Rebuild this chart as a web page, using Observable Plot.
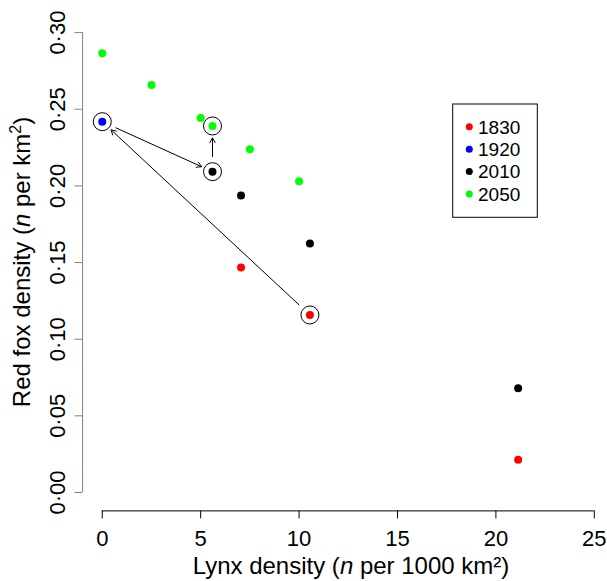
<!DOCTYPE html>
<html><head><meta charset="utf-8">
<script src="https://cdn.jsdelivr.net/npm/d3@7"></script>
<script src="https://cdn.jsdelivr.net/npm/@observablehq/plot@0.6"></script>
<style>body{margin:0;background:#fff}</style>
</head><body><div id="chart"></div>
<script>
const years = ["1830", "1920", "2010", "2050"];
const yearColors = ["#ff0000", "#0000ff", "#000000", "#00ff00"];
const lynx1830 = [10.55, 7.05, 21.13];
const fox1830 = [0.1158, 0.1468, 0.0213];
const lynx1920 = [0];
const fox1920 = [0.2419];
const lynx2010 = [5.6, 7.05, 10.55, 21.13];
const fox2010 = [0.2093, 0.1937, 0.1624, 0.068];
const lynx2050 = [0, 2.5, 5.0, 5.6, 7.5, 10.0];
const fox2050 = [0.2865, 0.2658, 0.2443, 0.2391, 0.2239, 0.2031];
const pathYears = ["1830", "1920", "2010", "2050"];
const pathLynx = [10.55, 0, 5.6, 5.6];
const pathFox = [0.1158, 0.2419, 0.2093, 0.2391];
const xTicks = [0, 5, 10, 15, 20, 25];
const yTicks = [0, 0.05, 0.10, 0.15, 0.20, 0.25, 0.30];
const yTickLabels = ["0·00", "0·05", "0·10", "0·15", "0·20", "0·25", "0·30"];
const xDomain = [-1, 25];
const yDomain = [-0.012, 0.312];

const series = [[lynx1830, fox1830], [lynx1920, fox1920], [lynx2010, fox2010], [lynx2050, fox2050]];
const points = series.flatMap(([lx, fx], i) => lx.map((x, j) => ({year: years[i], x, y: fx[j]})));
const path = pathYears.map((year, i) => ({year, x: pathLynx[i], y: pathFox[i]}));
const segs = d3.pairs(path).map(([a, b]) => ({x1: a.x, y1: a.y, x2: b.x, y2: b.y}));

const FONT = "'Liberation Sans', Arial, Helvetica, sans-serif";

const chart = Plot.plot({
  width: 607, height: 581,
  marginLeft: 82.1, marginRight: 13.2, marginTop: 13.7, marginBottom: 70.6,
  style: {fontFamily: FONT, fontSize: "22px", background: "#fff", overflow: "visible"},
  x: {domain: xDomain},
  y: {domain: yDomain},
  color: {domain: years, range: yearColors},
  marks: [
    Plot.ruleY([yDomain[0]], {x1: xTicks[0], x2: xTicks[xTicks.length - 1], stroke: "#000"}),
    Plot.axisX({ticks: xTicks, tickSize: 8, tickPadding: 11, fontSize: 22, label: null, stroke: "#000", fill: "#000"}),
    Plot.ruleX([xDomain[0]], {y1: yTicks[0], y2: yTicks[yTicks.length - 1], stroke: "#808080"}),
    Plot.axisY({ticks: yTicks, tickFormat: d => yTickLabels[yTicks.findIndex(t => Math.abs(t - d) < 1e-9)],
      tickRotate: -90, tickSize: 7.7, tickPadding: 10, fontSize: 22, label: null, stroke: "#808080", fill: "#000"}),
    Plot.dot(points, {x: "x", y: "y", fill: "year", r: 4, stroke: null}),
    Plot.dot(path, {x: "x", y: "y", r: 9, stroke: "#000", fill: "none", strokeWidth: 1}),
    Plot.arrow(segs, {x1: "x1", y1: "y1", x2: "x2", y2: "y2", insetStart: 15, insetEnd: 12,
      headLength: 8, headAngle: 60, stroke: "#000", strokeWidth: 1})
  ]
});

const svg = d3.select(chart);
// axis titles
const xt = svg.append("text").attr("x", 351).attr("y", 574).attr("text-anchor", "middle")
  .attr("font-size", 24).attr("fill", "#000");
xt.append("tspan").text("Lynx density (");
xt.append("tspan").attr("font-style", "italic").text("n");
xt.append("tspan").text(" per 1000 km²)");

const yt = svg.append("text").attr("transform", "translate(29.5,262) rotate(-90)").attr("text-anchor", "middle")
  .attr("font-size", 24).attr("fill", "#000");
yt.append("tspan").text("Red fox density (");
yt.append("tspan").attr("font-style", "italic").text("n");
yt.append("tspan").text(" per km");
yt.append("tspan").attr("font-size", 16).attr("dy", -9).text("2");
yt.append("tspan").attr("dy", 9).text(")");

// legend
const lg = svg.append("g");
lg.append("rect").attr("x", 452.7).attr("y", 104).attr("width", 84.6).attr("height", 113.3)
  .attr("fill", "#fff").attr("stroke", "#000").attr("stroke-width", 1);
years.forEach((yr, i) => {
  const cy = 126.7 + i * 22.45;
  lg.append("circle").attr("cx", 469.3).attr("cy", cy).attr("r", 3.5).attr("fill", yearColors[i]);
  lg.append("text").attr("x", 478).attr("y", cy + 6.8).attr("text-anchor", "start")
    .attr("font-size", 19).attr("fill", "#000").text(yr);
});

document.getElementById("chart").appendChild(chart);
</script>
</body></html>
